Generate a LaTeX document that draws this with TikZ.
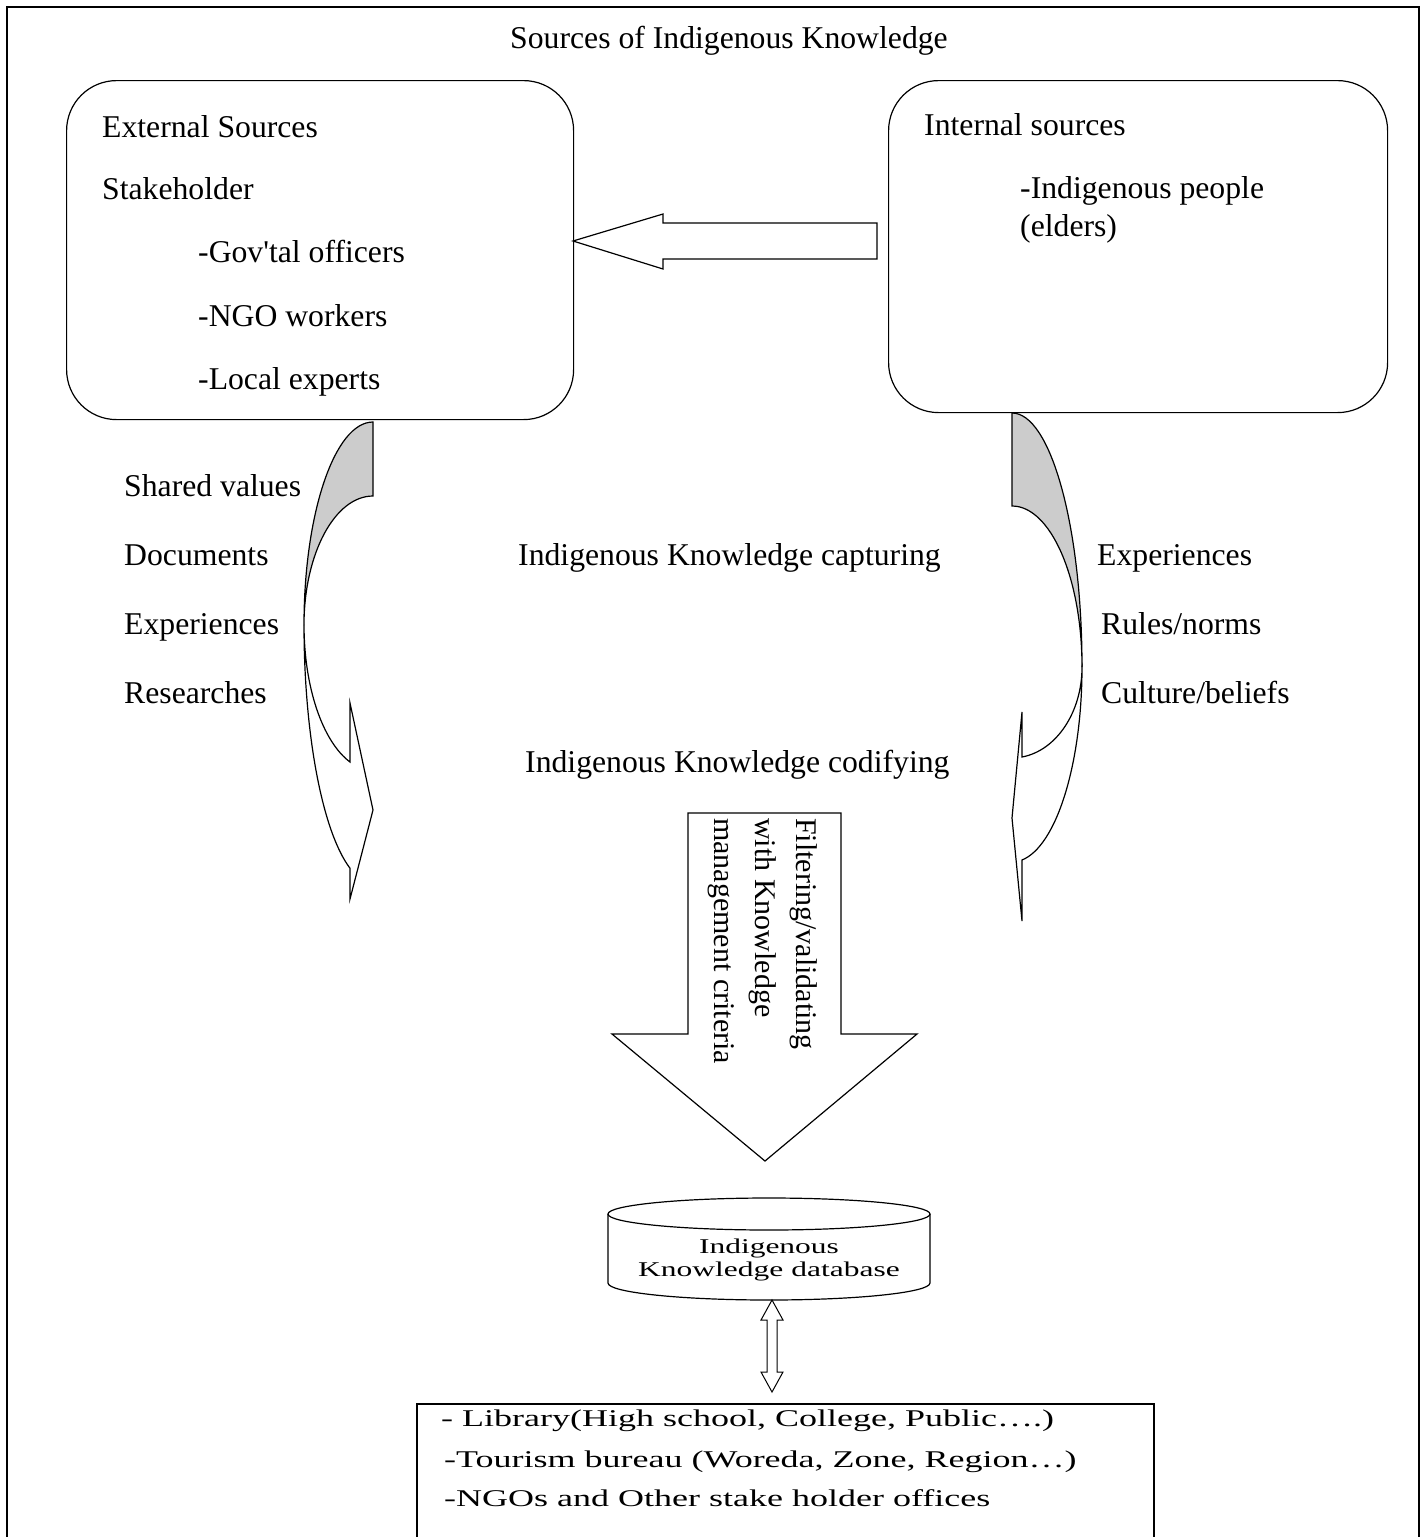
\documentclass[tikz,border=0pt]{standalone}
\usepackage{fontspec}
\newfontfamily\tnr{Liberation Serif}[Ligatures=CommonOff]
\newfontfamily\tnrwide{Liberation Serif}[Ligatures=CommonOff,FakeStretch=1.5]
\begin{document}
\begin{tikzpicture}[x=1pt,y=1pt,
  txt/.style={font=\tnr\fontsize{31.7}{36}\selectfont, inner sep=0pt, anchor=base west},
  ctxt/.style={txt, anchor=base},
  dbtxt/.style={font=\tnrwide\fontsize{21}{23}\selectfont, inner sep=0pt, anchor=base},
  boxtxt/.style={font=\tnrwide\fontsize{24}{28}\selectfont, inner sep=0pt, anchor=base west},
  filttxt/.style={font=\tnr\fontsize{30}{34}\selectfont, inner sep=0pt, anchor=base west, rotate=-90},
  shape line/.style={line width=1.2pt, line join=miter},
  srcbox/.style={draw, line width=1.2pt, rounded corners=50pt, anchor=north west, inner sep=0pt},
  backface/.style={shape line, fill=gray!40},
  frontface/.style={shape line, fill=white}]
\useasboundingbox (0,0) rectangle (1426,-1537);

% outer frame (open at the bottom)
\draw[line width=2pt] (7,-1545) -- (7,-7) -- (1419,-7) -- (1419,-1545);

\node[ctxt] (title) at (729,-48) {Sources of Indigenous Knowledge};

% source boxes
\node[srcbox, minimum width=507pt, minimum height=339pt] (ext) at (66,-80) {};
\node[srcbox, minimum width=499pt, minimum height=332pt] (int) at (888,-80) {};

\node[txt] (ext1) at (102,-137) {External Sources};
\node[txt] (ext2) at (102,-199) {Stakeholder};
\node[txt] (ext3) at (198,-262) {-Gov'tal officers};
\node[txt] (ext4) at (198,-326) {-NGO workers};
\node[txt] (ext5) at (198,-389) {-Local experts};

\node[txt] (int1) at (924,-135) {Internal sources};
\node[txt] (int2) at (1020,-198) {-Indigenous people};
\node[txt] (int3) at (1020,-236) {(elders)};

% block arrow from internal to external
\draw[shape line] (573,-241) -- (663,-214) -- (663,-223) -- (877,-223)
  -- (877,-259) -- (663,-259) -- (663,-269) -- cycle;

% left curved arrow
\draw[backface] (373,-422) arc[start angle=90, end angle=180, x radius=69, y radius=203]
  arc[start angle=180, end angle=90, x radius=69, y radius=129] -- cycle;
\draw[frontface] (304,-625) arc[start angle=180, end angle=250.5, x radius=69, y radius=258]
  -- (350,-899) -- (373,-810) -- (350,-703) -- (350,-762)
  arc[start angle=250.5, end angle=180, x radius=69, y radius=145] -- cycle;

% right curved arrow
\draw[backface] (1012,-413) arc[start angle=90, end angle=0, x radius=70, y radius=254]
  arc[start angle=0, end angle=90, x radius=70, y radius=161] -- cycle;
\draw[frontface] (1082,-667) arc[start angle=0, end angle=-81.8, x radius=70, y radius=195]
  -- (1022,-921) -- (1012,-818) -- (1022,-712) -- (1022,-757)
  arc[start angle=-81.8, end angle=0, x radius=70, y radius=91] -- cycle;

% left labels
\node[txt] (l1) at (124,-496) {Shared values};
\node[txt] (l2) at (124,-565) {Documents};
\node[txt] (l3) at (124,-634) {Experiences};
\node[txt] (l4) at (124,-703) {Researches};

% middle labels
\node[txt] (cap) at (518,-565) {Indigenous Knowledge capturing};
\node[txt] (cod) at (525,-772) {Indigenous Knowledge codifying};

% right labels
\node[txt] (r1) at (1097,-565) {Experiences};
\node[txt] (r2) at (1101,-634) {Rules/norms};
\node[txt] (r3) at (1101,-703) {Culture/beliefs};

% big down arrow
\draw[shape line] (688,-813) -- (841,-813) -- (841,-1034) -- (917,-1034)
  -- (765,-1161) -- (612,-1034) -- (688,-1034) -- cycle;
\node[filttxt] (f1) at (796,-818) {Filtering/validating};
\node[filttxt] (f2) at (755,-818) {with Knowledge};
\node[filttxt] (f3) at (714,-818) {management criteria};

% database cylinder
\draw[shape line, fill=white] (608,-1214) -- (608,-1283)
  arc[start angle=180, end angle=360, x radius=161, y radius=17] -- (930,-1214);
\draw[shape line] (769,-1214) ellipse[x radius=161, y radius=16];
\node[dbtxt] (db1) at (769,-1253) {Indigenous};
\node[dbtxt] (db2) at (769,-1276) {Knowledge database};

% double arrow
\draw[line width=1pt] (772,-1300) -- (783,-1320) -- (777,-1320) -- (777,-1372)
  -- (783,-1372) -- (772,-1392) -- (761,-1372) -- (767,-1372) -- (767,-1320)
  -- (761,-1320) -- cycle;

% bottom box (open at the bottom)
\draw[line width=2pt] (417,-1545) -- (417,-1404) -- (1154,-1404) -- (1154,-1545);
\node[boxtxt] (b1) at (441,-1426) {- Library(High school, College, Public….)};
\node[boxtxt] (b2) at (444,-1467) {-Tourism bureau (Woreda, Zone, Region…)};
\node[boxtxt] (b3) at (444,-1506) {-NGOs and Other stake holder offices};
\end{tikzpicture}
\end{document}
